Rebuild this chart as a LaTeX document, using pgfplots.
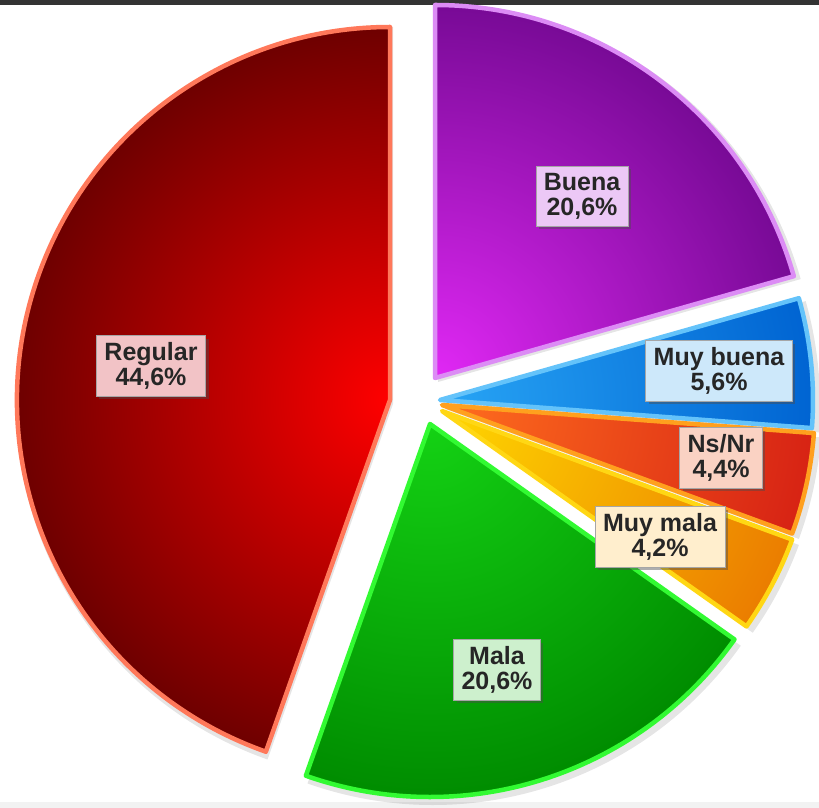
\documentclass[border=0pt]{standalone}
\usepackage{pgfplots}
\pgfplotsset{compat=1.18}
\usepackage{pgfplotstable}
\usepackage{fontspec}
\setmainfont{Liberation Sans}
\usetikzlibrary{shadows}

\definecolor{buIn}{RGB}{225,40,245}\definecolor{buOut}{RGB}{120,10,150}\definecolor{buBd}{RGB}{220,140,245}\definecolor{buBox}{RGB}{236,200,246}
\definecolor{mbIn}{RGB}{40,165,245}\definecolor{mbOut}{RGB}{0,100,210}\definecolor{mbBd}{RGB}{100,195,250}\definecolor{mbBox}{RGB}{205,232,250}
\definecolor{nsIn}{RGB}{255,110,30}\definecolor{nsOut}{RGB}{215,35,20}\definecolor{nsBd}{RGB}{255,160,30}\definecolor{nsBox}{RGB}{250,210,195}
\definecolor{mmIn}{RGB}{255,215,0}\definecolor{mmOut}{RGB}{235,125,0}\definecolor{mmBd}{RGB}{255,215,20}\definecolor{mmBox}{RGB}{255,238,205}
\definecolor{maIn}{RGB}{20,210,20}\definecolor{maOut}{RGB}{0,140,0}\definecolor{maBd}{RGB}{50,250,50}\definecolor{maBox}{RGB}{205,240,205}
\definecolor{reIn}{RGB}{255,0,0}\definecolor{reOut}{RGB}{110,0,0}\definecolor{reBd}{RGB}{255,120,90}\definecolor{reBox}{RGB}{242,195,198}

\tikzset{lbl/.style={font=\fontsize{25}{25}\selectfont\bfseries, align=center, inner xsep=8pt, inner ysep=7pt,
    draw=black!35, line width=0.6pt, text=black!85,
    drop shadow={shadow xshift=3pt, shadow yshift=-3pt, opacity=0.45, fill=black!70}}}

% slice value(%) apex-x apex-y (pixel-like axis units)
\pgfplotstableread{
label value ax ay
Buena 20.6 435 430
MuyBuena 5.6 440 408
NsNr 4.4 442 403
MuyMala 4.2 442 397
Mala 20.6 430 384
Regular 44.6 390 408
}\piedata

\newcommand\getrow[2]{% row, suffix
  \pgfplotstablegetelem{#1}{value}\of\piedata\expandafter\let\csname v#2\endcsname\pgfplotsretval
  \pgfplotstablegetelem{#1}{ax}\of\piedata\expandafter\let\csname x#2\endcsname\pgfplotsretval
  \pgfplotstablegetelem{#1}{ay}\of\piedata\expandafter\let\csname y#2\endcsname\pgfplotsretval}

\newcommand\pieslice[7]{% start, value, ax, ay, inner, outer, border
  \path[fill=black, opacity=0.10] ([shift={(3pt,-4pt)}]axis cs:#3,#4) -- ++({90-3.6*(#1)}:377pt)
     arc[start angle={90-3.6*(#1)}, delta angle={-3.6*(#2)}, radius=377pt] -- cycle;
  \begin{scope}
    \clip (axis cs:#3,#4) -- ++({90-3.6*(#1)}:373pt)
       arc[start angle={90-3.6*(#1)}, delta angle={-3.6*(#2)}, radius=373pt] -- cycle;
    \shade[inner color=#5, outer color=#6] (axis cs:#3,#4) circle (373pt);
  \end{scope}
  \draw[#7, line width=4.5pt, line join=round] (axis cs:#3,#4) -- ++({90-3.6*(#1)}:373pt)
     arc[start angle={90-3.6*(#1)}, delta angle={-3.6*(#2)}, radius=373pt] -- cycle;
}

\begin{document}
\getrow{0}{A}\getrow{1}{B}\getrow{2}{C}\getrow{3}{D}\getrow{4}{E}\getrow{5}{F}%
\pgfmathsetmacro\sA{0}%
\pgfmathsetmacro\sB{\sA+\vA}%
\pgfmathsetmacro\sC{\sB+\vB}%
\pgfmathsetmacro\sD{\sC+\vC}%
\pgfmathsetmacro\sE{\sD+\vD}%
\pgfmathsetmacro\sF{\sE+\vE}%
\begin{tikzpicture}
\begin{axis}[width=819pt, height=808pt, scale only axis,
  xmin=0, xmax=819, ymin=0, ymax=808, hide axis, clip=false]
  \fill[white] (axis cs:0,0) rectangle (axis cs:819,808);
  \fill[black!5] (axis cs:0,0) rectangle (axis cs:819,6);
  \fill[black!80] (axis cs:0,803) rectangle (axis cs:819,808);
  \pieslice{\sA}{\vA}{\xA}{\yA}{buIn}{buOut}{buBd}
  \pieslice{\sB}{\vB}{\xB}{\yB}{mbIn}{mbOut}{mbBd}
  \pieslice{\sC}{\vC}{\xC}{\yC}{nsIn}{nsOut}{nsBd}
  \pieslice{\sD}{\vD}{\xD}{\yD}{mmIn}{mmOut}{mmBd}
  \pieslice{\sE}{\vE}{\xE}{\yE}{maIn}{maOut}{maBd}
  \pieslice{\sF}{\vF}{\xF}{\yF}{reIn}{reOut}{reBd}
  \node[lbl, fill=reBox] at (axis cs:151,442) {Regular\\44,6\%};
  \node[lbl, fill=buBox] at (axis cs:582,612) {Buena\\20,6\%};
  \node[lbl, fill=mbBox] at (axis cs:719,437) {Muy buena\\5,6\%};
  \node[lbl, fill=nsBox] at (axis cs:721,350) {Ns/Nr\\4,4\%};
  \node[lbl, fill=mmBox] at (axis cs:660,271) {Muy mala\\4,2\%};
  \node[lbl, fill=maBox] at (axis cs:497,138) {Mala\\20,6\%};
\end{axis}
\pgfresetboundingbox
\path[use as bounding box] (current axis.south west) rectangle (current axis.north east);
\end{tikzpicture}
\end{document}
